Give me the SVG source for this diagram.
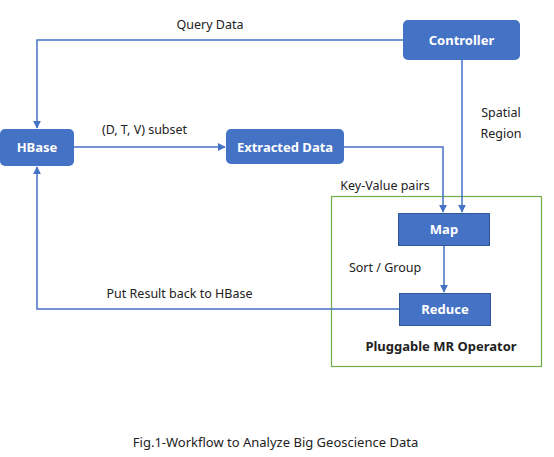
<svg xmlns="http://www.w3.org/2000/svg" width="554" height="457" viewBox="0 0 554 457">
<style>
.node{fill:#4472C4;}
.sq{fill:#4472C4;stroke:#2F5597;stroke-width:1;}
.nt{fill:#fff;font-family:"Noto Sans","Open Sans",sans-serif;font-size:13px;font-weight:bold;text-anchor:middle;}
.lbl{fill:#222;font-family:"Noto Sans","Open Sans",sans-serif;font-size:12.5px;}
.conn{fill:none;stroke:#4472C4;stroke-width:1.5;}
</style>
<defs>
<marker id="arr" viewBox="0 0 10 10" refX="9" refY="5" markerWidth="8" markerHeight="8" markerUnits="userSpaceOnUse" orient="auto">
<path d="M0,0 L10,5 L0,10 z" fill="#4472C4"/>
</marker>
</defs>
<rect x="0" y="0" width="554" height="457" fill="#fff"/>
<g id="group-box">
<rect x="331.5" y="196.5" width="210" height="170" fill="none" stroke="#70AD47" stroke-width="1.2"/>
<text x="441" y="351" class="lbl" style="font-weight:bold;text-anchor:middle;font-size:13px" fill="#000">Pluggable MR Operator</text>
</g>
<g id="connectors">
<path class="conn" d="M403,40 H37 V128" marker-end="url(#arr)"/>
<path class="conn" d="M74,147 H225" marker-end="url(#arr)"/>
<path class="conn" d="M344,147 H443 V212" marker-end="url(#arr)"/>
<path class="conn" d="M462,60 V212" marker-end="url(#arr)"/>
<path class="conn" d="M444,246 V292" marker-end="url(#arr)"/>
<path class="conn" d="M399,309 H37 V167" marker-end="url(#arr)"/>
<text x="210" y="29" class="lbl" text-anchor="middle">Query Data</text>
<text x="144.5" y="134" class="lbl" text-anchor="middle">(D, T, V) subset</text>
<text x="501" y="117" class="lbl" text-anchor="middle">Spatial</text>
<text x="501" y="138" class="lbl" text-anchor="middle">Region</text>
<text x="385" y="190" class="lbl" text-anchor="middle">Key-Value pairs</text>
<text x="385" y="272" class="lbl" text-anchor="middle">Sort / Group</text>
<text x="179.5" y="298" class="lbl" text-anchor="middle">Put Result back to HBase</text>
</g>
<g id="controller">
<rect class="node" x="403" y="20" width="117" height="40" rx="5"/>
<text class="nt" x="461.5" y="45">Controller</text>
</g>
<g id="hbase">
<rect class="node" x="0" y="129" width="74" height="37" rx="5"/>
<text class="nt" x="37" y="152">HBase</text>
</g>
<g id="extracted">
<rect class="node" x="226" y="129" width="118" height="35" rx="5"/>
<text class="nt" x="285" y="151.5">Extracted Data</text>
</g>
<g id="map">
<rect class="sq" x="398.5" y="213.5" width="91" height="32"/>
<text class="nt" x="444" y="234">Map</text>
</g>
<g id="reduce">
<rect class="sq" x="399.5" y="293.5" width="91" height="32"/>
<text class="nt" x="445" y="314">Reduce</text>
</g>
<text x="275.5" y="447" class="lbl" text-anchor="middle" fill="#333" style="font-size:13px">Fig.1-Workflow to Analyze Big Geoscience Data</text>
</svg>
